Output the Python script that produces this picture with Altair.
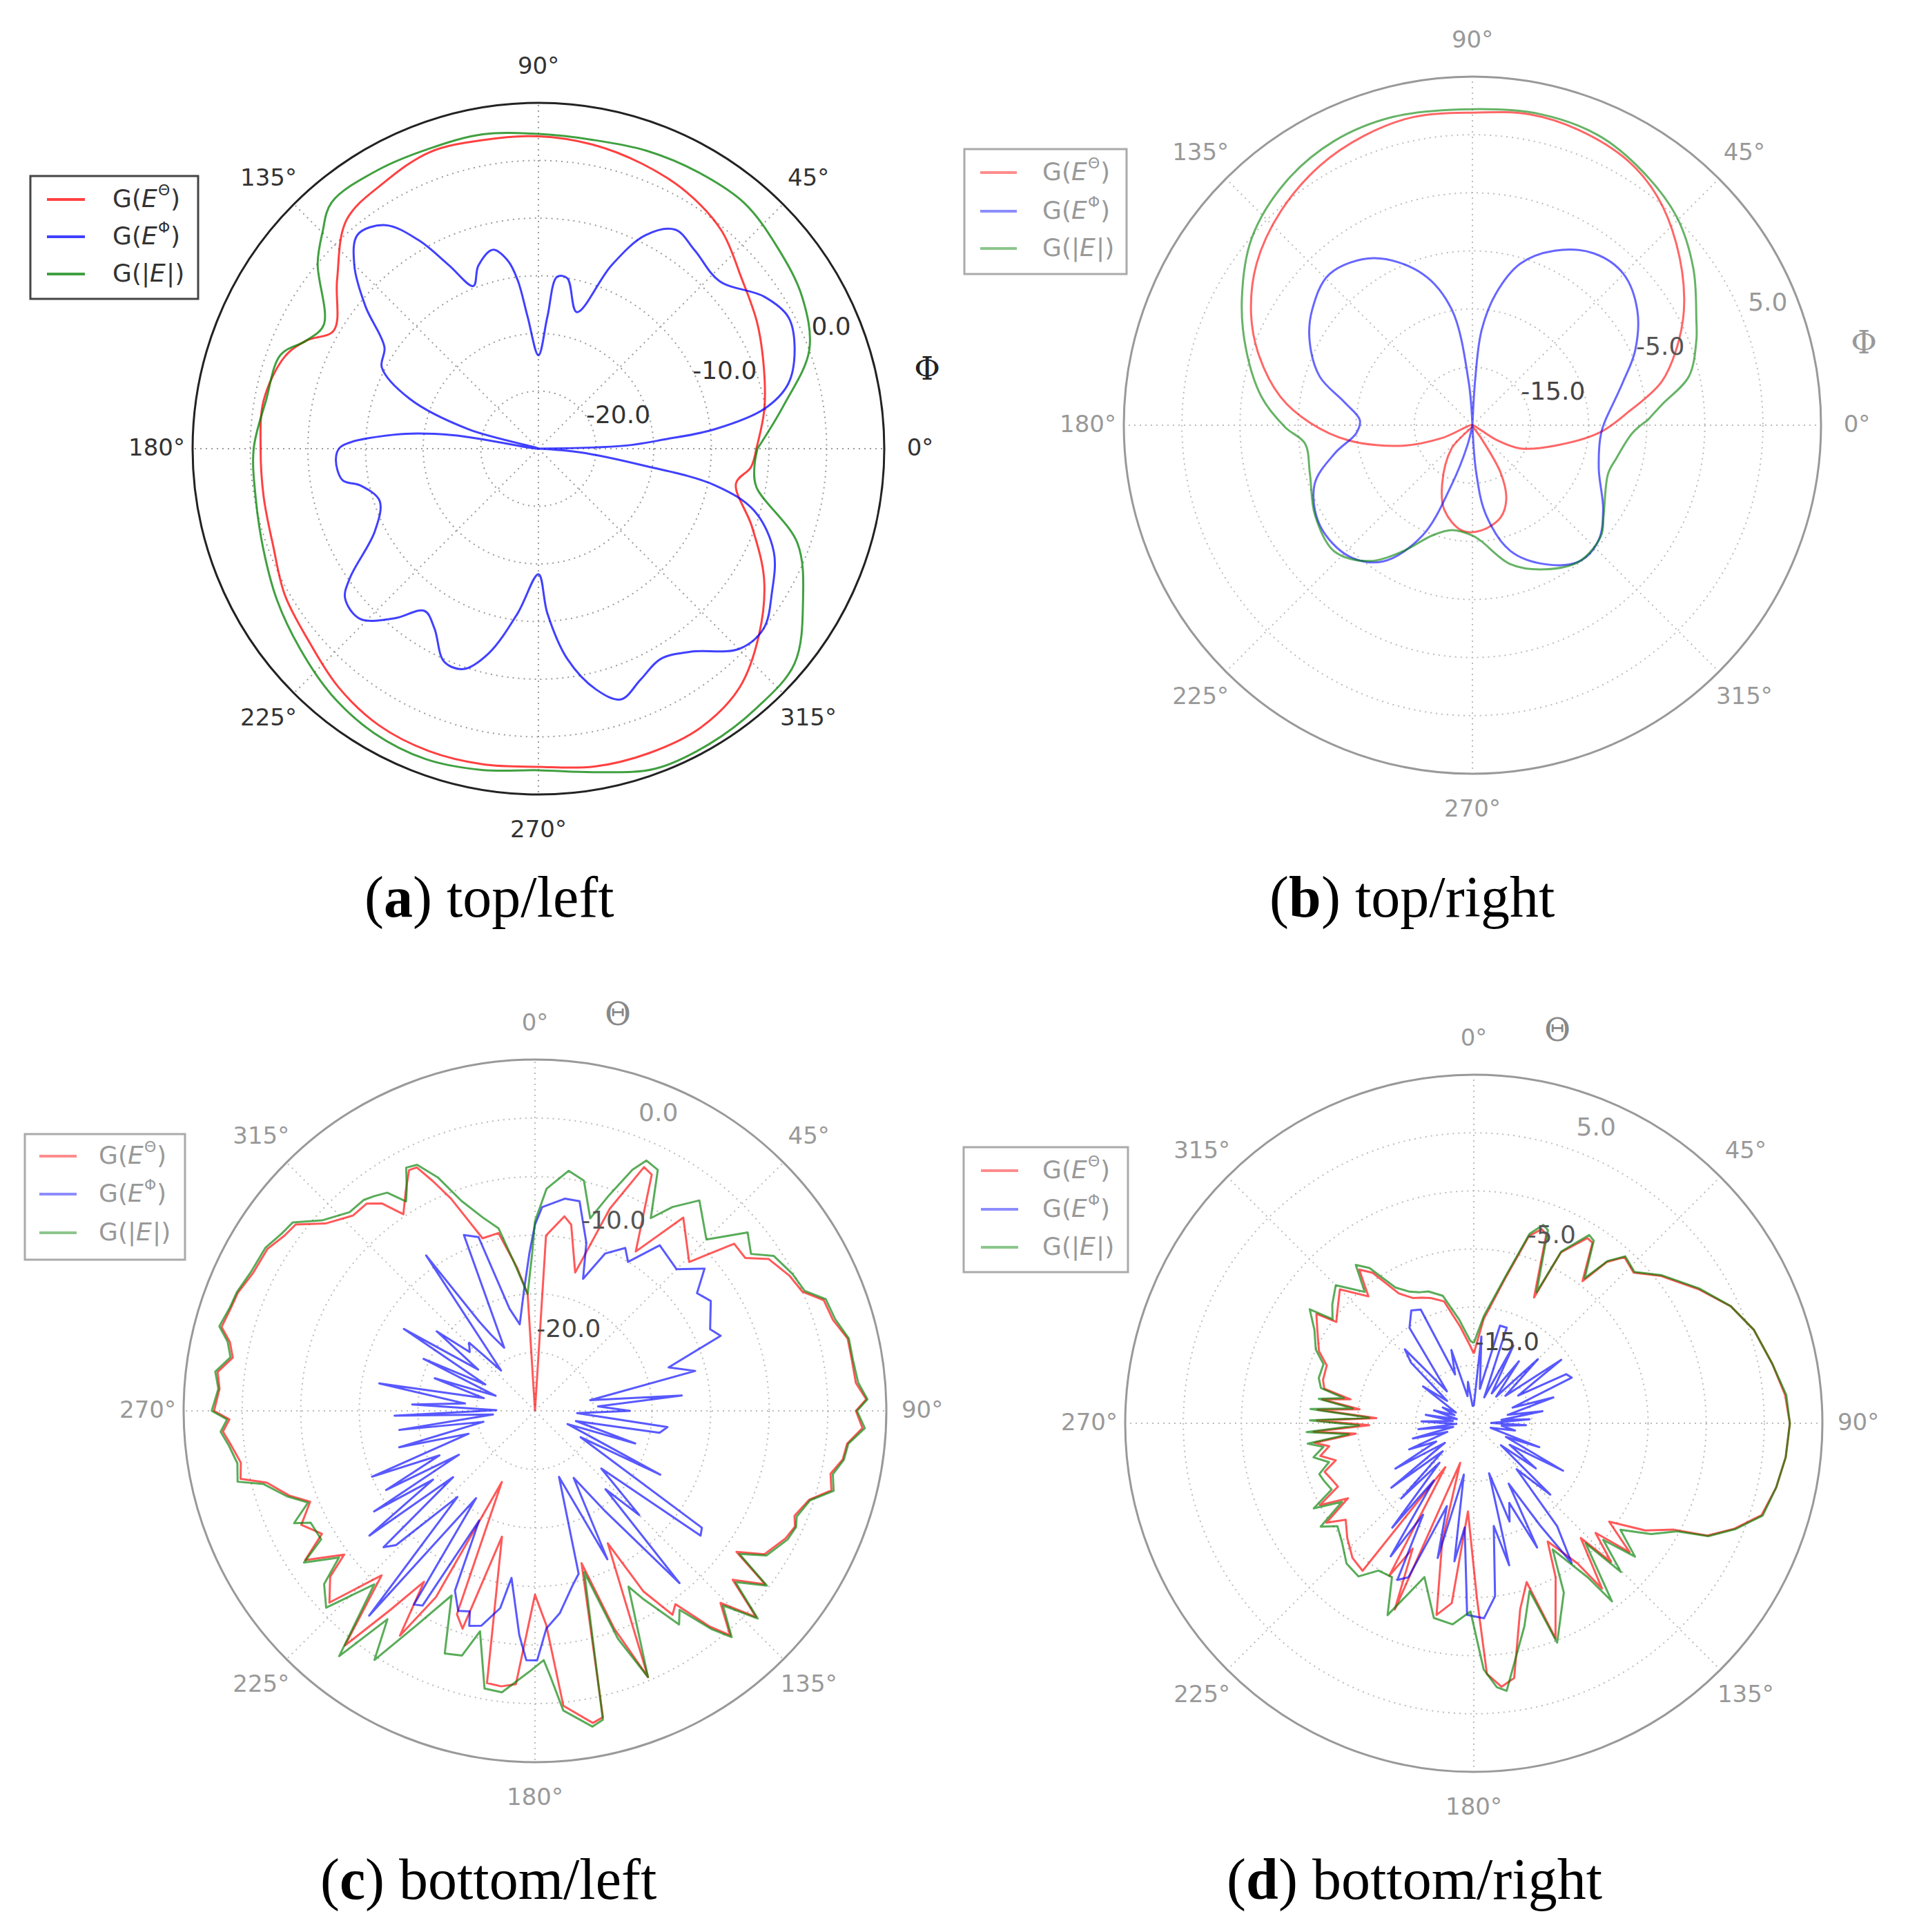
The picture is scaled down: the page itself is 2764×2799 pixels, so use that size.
import altair as alt
import pandas as pd

alt.data_transformers.disable_max_rows()

# ================= DATA: (angle in degrees, gain in dB) =================
# (a) top/left  -- angle counter-clockwise from east
A_THETA = [(0,-11.1),(10,-10.1),(20,-9.2),(30,-8.1),(40,-7.0),(50,-5.3),(60,-4.3),(70,-3.7),(80,-3.2),
           (90,-2.9),(100,-2.8),(110,-2.6),(120,-3.3),(130,-4.1),(140,-7.2),(150,-9.5),(155,-7.8),(160,-6.6),
           (170,-5.8),(180,-5.9),(190,-5.8),(200,-5.5),(210,-4.6),(220,-4.0),(230,-3.0),(240,-2.3),(250,-2.1),
           (260,-2.2),(270,-2.4),(280,-2.0),(290,-1.9),(300,-2.0),(310,-2.9),(320,-5.0),(330,-7.4),(340,-10.3),
           (350,-12.6),(355,-11.5)]
A_PHI = [(0,-30),(2,-22.5),(4.2,-19.0),(6.3,-14.6),(10,-10.1),(14.6,-7.6),(21.6,-6.1),(27.8,-5.5),(34,-6.4),
         (42.8,-8.6),(51.7,-8.1),(58,-7.6),(63.4,-9.3),(68.3,-12.9),(74.3,-17.7),(80.4,-15.0),(83.8,-15.0),
         (86.1,-18.5),(90,-21.9),(94.7,-18.5),(97,-15.3),(99.2,-13.5),(102.9,-12.3),(108.2,-13.3),(111.8,-14.8),
         (116,-12.3),(119.8,-9.2),(124.4,-6.5),(130.2,-5.7),(135.2,-7.5),(140.6,-10.6),(146.6,-14.0),
         (152.6,-14.7),(158.8,-18.0),(164.5,-23.7),(168,-30),(171,-22.5),(174.4,-17.5),(179.6,-12.8),
         (183.2,-12.4),(189.2,-12.8),(191.6,-14.2),(198.2,-15.5),(206.8,-14.1),(214.4,-10.2),(217.7,-8.8),
         (223.6,-8.6),(229.7,-10.7),(234.9,-12.8),(239.9,-12.0),(246.1,-9.8),(251.2,-9.8),(256.3,-11.7),
         (262.8,-15.6),(270,-19.1),(273.1,-15.7),(277.8,-11.6),(283.5,-8.5),(288.2,-7.1),(293.9,-8.1),
         (300.1,-8.9),(306.8,-8.0),(315.1,-5.4),(321.4,-5.0),(328.3,-6.2),(336.3,-7.7),(343.9,-10.5),
         (348.3,-14.4),(351,-21.0),(355,-26.4)]
A_ABS = [(0,-11.0),(10,-8.4),(20,-5.0),(30,-3.6),(40,-2.9),(50,-2.2),(60,-2.3),(70,-2.5),(80,-2.8),(90,-2.7),
         (100,-2.3),(110,-2.3),(120,-2.1),(130,-2.1),(135,-3.5),(140,-5.0),(150,-8.5),(155,-7.8),(160,-6.2),
         (170,-6.0),(180,-5.3),(190,-5.1),(200,-4.6),(210,-3.8),(220,-3.0),(230,-2.1),(240,-1.5),(250,-1.35),
         (260,-1.7),(270,-2.1),(280,-1.5),(290,-0.45),(300,-0.4),(310,-0.6),(320,-1.0),(330,-3.5),(340,-6.1),
         (350,-10.8),(355,-11.2)]

# (b) top/right -- angle counter-clockwise from east
B_THETA = [(4.7,-11.6),(12.9,-8.3),(22.3,-5.8),(30.7,-3.8),(41.7,-1.5),(51,0.3),(59.5,1.4),(70.1,2.0),
           (79.5,2.2),(90,1.9),(101,2.0),(110.5,1.6),(120.5,0.9),(132,-0.3),(143.2,-1.8),(153.4,-3.7),
           (162,-5.7),(171.6,-8.3),(179.1,-11.0),(187.1,-14.3),(196.5,-18.8),(203,-22.2),(212,-25),
           (228.2,-22.3),(242.8,-19.3),(251.8,-17.3),(264.1,-15.9),(274.7,-15.9),(287,-16.7),(294.6,-18.0),
           (300.6,-20.2),(304,-23.7),(314,-25),(328.5,-22.6),(334.2,-20.4),(346,-17.7),(356.5,-14.1)]
B_PHI = [(5.4,-13.2),(16.1,-11.5),(24.6,-9.6),(34.9,-7.7),(45.1,-6.6),(54.8,-6.9),(64.8,-8.4),(73.5,-10.5),
         (79.9,-13.5),(84.5,-16.8),(86.5,-21.0),(89,-25),(91,-25),(95,-21.2),(100.1,-14.9),(108.2,-11.3),
         (120.6,-8.3),(133.4,-7.1),(144.2,-8.0),(152.5,-9.2),(162.3,-11.2),(169.8,-13.8),(177.4,-15.3),
         (183.8,-15.0),(191.6,-12.9),(200.5,-10.5),(213.2,-9.3),(226.8,-9.5),(236.8,-11.0),(245.7,-14.6),
         (250.8,-19.6),(256,-23.2),(262,-25),(272,-25),(274.6,-20.9),(278.6,-17.2),(286.8,-13.7),
         (297.6,-11.5),(308.1,-10.1),(317.6,-10.3),(327.1,-11.6),(341,-13.5),(356.6,-13.9)]
B_ABS = [(1.7,-9.9),(6.2,-8.6),(12.7,-5.9),(20.7,-4.4),(25.2,-3.7),(35.3,-1.7),(45.5,0.1),(56.2,1.3),
         (66.5,2.2),(77.7,2.4),(90,2.2),(104.4,2.4),(115.9,2.2),(127.4,1.4),(139.7,-0.1),(151.4,-2.4),
         (161.7,-4.5),(172.4,-6.7),(180.7,-8.9),(186.2,-10.5),(196.7,-10.4),(209.7,-9.4),(222.4,-8.9),
         (232.7,-10.3),(241.1,-12.6),(250,-14.9),(259,-15.8),(270,-15.5),(274.3,-15.0),(285.3,-12.6),
         (296.8,-11.1),(308.1,-10.1),(319.3,-10.4),(325.5,-11.3),(340.3,-12.6),(346.9,-12.3),(357.3,-11.2)]

# (c) bottom/left -- angle clockwise from north
C_THETA = [(0.8,-30),(3.6,-15.0),(8.6,-13.2),(11,-13.8),(16.2,-17.7),(20.3,-11.6),(24.1,-7.2),(26.3,-7.5),
           (32.3,-13.9),(37.5,-9.2),(46,-11.7),(50,-7.8),(54,-7.8),(57,-6.2),(62,-5.4),(66,-5.0),(69,-3.6),
           (73,-3.4),(77,-2.6),(81,-2.6),(85,-2.5),(88,-1.7),(90,-2.6),(93,-2.0),(96,-3.2),(99,-3.4),
           (102,-4.2),(105,-3.8),(108,-5.4),(112,-6.1),(114,-5.7),(117,-6.0),(122,-6.9),(125,-9.0),(127,-5.4),
           (130.5,-7.8),(133,-4.2),(136,-7.2),(139,-4.6),(141,-6.3),(144,-9.6),(146,-9.0),(149,-12.0),
           (151.2,-17.1),(157,-5.3),(160,-10.2),(163,-16.4),(167.5,-3.2),(169.5,-2.9),(174.5,-4.7),
           (177,-11.7),(180,-14.3),(184,-6.6),(187,-6.3),(190,-6.4),(194.7,-18.9),(198.4,-10.4),(201,-11.4),
           (205,-23.3),(208,-12.0),(211,-7.6),(213,-12.6),(216,-9.0),(219,-4.2),(223,-10.8),(227,-6.0),
           (231,-7.5),(233,-9.6),(237,-6.6),(240,-9.0),(244,-7.8),(248,-9.3),(251,-7.8),(255,-6.3),(257,-4.2),
           (260,-4.5),(263.5,-3.9),(266.2,-3.3),(268.4,-3.9),(270,-2.6),(274,-3.0),(277,-2.7),(280,-3.8),
           (282.7,-3.3),(285,-2.3),(288.8,-2.6),(291.7,-2.7),(296,-3.2),(301.2,-3.3),(305,-3.9),(307.9,-4.1),
           (311.8,-6.0),(317,-7.2),(320.9,-7.2),(323.6,-8.0),(326.2,-9.8),(329.6,-8.2),(332.4,-6.8),
           (334.1,-6.9),(336,-8.5),(338.4,-10.5),(343.1,-14.6),(348.4,-14.5),(352.9,-17.7),(356.4,-20.0),
           (359.3,-30)]
C_PHI = [(0,-14.1),(2,-12.6),(8,-11.7),(12,-11.7),(17,-15.0),(20,-18.0),(24,-15.3),(29,-14.1),(32,-15.0),
         (37,-12.3),(45,-12.9),(50,-11.1),(54,-12.9),(58,-12.3),(65,-13.5),(68,-12.9),(72,-18.0),(76,-15.9),
         (79,-25.2),(84,-17.4),(86,-24.6),(90,-21.9),(93,-26.4),(97,-18.6),(100,-19.2),(104,-26.4),(108,-21.0),
         (112,-27.0),(117,-18.0),(120,-25.5),(125,-12.6),(127,-12.3),(131,-22.5),(135,-17.4),(138,-21.0),
         (140,-10.8),(145,-19.5),(150,-23.4),(154,-15.9),(160,-24.0),(165,-15.6),(168,-14.7),(173,-12.6),
         (177,-11.4),(179.5,-8.7),(182,-8.7),(184,-10.8),(188,-15.6),(190,-12.9),(194,-11.1),(197,-10.8),
         (198,-12.0),(201,-11.7),(204,-13.2),(207,-19.5),(210,-10.8),(212,-10.5),(214,-21.0),(219,-7.5),
         (222,-20.1),(226,-13.5),(228,-12.6),(231,-21.0),(233,-12.3),(236,-19.5),(238,-13.8),(240,-22.5),
         (242,-15.6),(245,-21.0),(248,-15.0),(251,-24.0),(255,-18.0),(258,-25.5),(262,-18.3),(265,-26.4),
         (268,-18.0),(271,-26.7),(273,-19.5),(276,-24.0),(280,-16.5),(284,-25.5),(288,-21.0),(291,-26.4),
         (295,-19.5),(298,-25.2),(302,-16.8),(306,-24.0),(309,-19.2),(312,-22.5),(316,-21.9),(320,-25.5),
         (325,-13.8),(328,-21.0),(330,-22.5),(334,-24.0),(338,-13.8),(342,-14.4),(346,-21.0),(350,-22.5),
         (355,-19.5),(358,-16.5)]
C_ABS = [(0,-13.8),(3,-11.0),(8,-9.3),(12,-9.9),(16,-12.9),(19,-10.5),(22,-7.8),(24,-6.6),(27,-6.9),
         (31,-10.8),(34,-9.0),(38,-7.2),(45,-9.3),(50,-6.3),(54,-7.2),(57,-5.7),(62,-5.1),(66,-4.8),(69,-3.4),
         (73,-3.2),(77,-2.5),(81,-2.5),(85,-2.3),(88,-1.6),(90,-2.5),(93,-1.8),(96,-3.1),(99,-3.3),(102,-4.0),
         (105,-3.6),(108,-5.3),(112,-5.9),(114,-5.6),(117,-5.8),(122,-6.7),(125,-8.7),(127,-5.2),(130.5,-7.5),
         (133,-4.0),(136,-6.9),(139,-4.4),(141,-6.0),(144,-9.0),(146,-8.0),(150,-11.4),(152,-13.0),(157,-5.3),
         (160,-9.3),(163,-15.6),(167.6,-3.0),(169.7,-2.6),(174.6,-4.3),(176.7,-7.3),(178,-8.7),(181,-7.8),
         (186.7,-5.8),(190.3,-5.9),(194,-10.6),(196.6,-8.2),(200.4,-7.9),(204.3,-12.7),(209,-9.0),
         (212.8,-4.7),(215.3,-8.2),(218.6,-3.2),(222.8,-9.8),(226.7,-5.5),(230.6,-6.7),(233.2,-9.1),
         (236.7,-6.4),(239,-8.7),(243.5,-8.6),(245,-7.3),(248,-9.1),(251,-7.6),(254.9,-6.0),(256.6,-3.9),
         (260,-4.2),(263.5,-3.7),(266.2,-3.1),(268.4,-3.7),(270,-2.4),(274,-2.9),(277,-2.5),(280,-3.6),
         (282.7,-3.1),(285,-2.1),(288.8,-2.5),(291.7,-2.6),(296,-3.0),(301.2,-3.1),(305,-3.6),(307.9,-3.8),
         (311.8,-5.6),(317,-6.8),(320.9,-6.8),(323.2,-7.1),(325.9,-7.5),(328.4,-9.0),(330,-8.1),(332.1,-6.5),
         (334.4,-6.7),(337.4,-8.4),(340.7,-11.0),(344.9,-12.9),(348.7,-14.1),(352,-17.2),(356.4,-20.0),
         (359,-16.5)]

# (d) bottom/right -- angle clockwise from north
D_THETA = [(0,-19.0),(5.4,-16.0),(12.4,-12.1),(16.4,-8.2),(19.3,-7.3),(21,-7.6),(25.6,-13.0),(27,-8.5),
           (31.5,-6.3),(33.3,-6.4),(37.4,-9.6),(39.5,-7.0),(42.2,-5.7),(46.7,-6.1),(51.8,-4.5),(59.1,-2.5),
           (65.5,-0.7),(71.5,0.4),(78.8,1.2),(84.8,1.9),(90,2.2),(96.2,2.0),(102,1.6),(107.7,1.0),(112,-0.8),
           (115.7,-2.7),(118,-5.5),(122,-7.6),(126,-10.6),(129.6,-7.6),(132,-10.9),(135.3,-8.2),(137,-11.5),
           (142.2,-7.0),(143.5,-10.0),(148,-13.0),(152,-10.0),(159.2,-5.2),(161.6,-10.6),(166,-8.5),
           (171,-2.8),(174,-2.2),(177,-3.4),(179,-10.0),(183.8,-17.4),(187,-9.4),(191,-8.2),(195,-14.5),
           (199,-21.4),(203,-7.6),(206,-13.0),(209,-10.0),(213,-20.5),(217,-9.1),(222,-9.4),(227.8,-10.3),
           (233,-11.2),(236,-9.7),(239.2,-12.4),(242,-10.0),(245,-12.1),(249,-11.8),(252,-11.5),(255,-12.7),
           (258,-11.5),(261,-12.4),(263,-11.2),(265,-14.8),(267,-11.2),(269,-16.0),(271,-11.5),(273,-16.6),
           (275,-11.5),(277,-15.1),(279,-11.8),(281,-14.2),(283,-11.8),(286,-11.5),(291.5,-11.4),(295,-10.3),
           (300.4,-9.4),(304.8,-8.5),(306.4,-10.3),(310,-9.7),(315,-8.7),(320.3,-10.8),(323.3,-8.5),
           (326.1,-9.4),(330,-12.1),(334,-13.0),(337.6,-13.3),(341,-13.6),(346.3,-14.2),(352,-16.6),
           (357.6,-18.4)]
D_PHI = [(0,-23.5),(5,-17.5),(10,-22.0),(15,-16.3),(19,-16.3),(22,-22.6),(27,-17.5),(31,-22.0),(36,-18.4),
         (40,-22.0),(45,-17.2),(49,-21.4),(54,-15.7),(58,-20.5),(62,-16.0),(65,-15.7),(68,-21.4),(72,-17.8),
         (76,-22.0),(80,-19.0),(83,-22.6),(86,-20.2),(89,-23.5),(92,-20.5),(95,-22.6),(100,-21.4),(105,-23.5),
         (110,-19.0),(113,-22.0),(118,-16.3),(121,-21.4),(126,-18.4),(129,-22.0),(133,-16.0),(137,-19.6),
         (141,-13.6),(145,-10.3),(147,-14.5),(150,-19.0),(153,-13.0),(156,-17.5),(160,-16.0),(163,-20.5),
         (166,-12.4),(169,-16.0),(173,-10.0),(177,-8.2),(182,-8.5),(185,-16.0),(188,-13.0),(191,-20.5),
         (195,-13.0),(198,-17.5),(203,-10.6),(206,-10.0),(209,-16.0),(212,-11.5),(215,-19.0),(218,-13.6),
         (221,-20.5),(224,-16.0),(228,-21.4),(232,-16.0),(236,-22.0),(240,-17.2),(244,-21.4),(248,-19.0),
         (252,-22.6),(256,-19.6),(260,-23.2),(264,-20.2),(268,-23.5),(272,-20.5),(276,-23.2),(280,-20.8),
         (284,-23.5),(288,-21.4),(293,-23.2),(297,-22.0),(301,-23.2),(306,-19.6),(310,-22.0),(314,-17.5),
         (317,-16.3),(320,-21.4),(326,-15.1),(331,-13.9),(335,-14.2),(339,-20.5),(343,-18.4),(347,-22.6),
         (352,-21.4),(356,-23.5)]
D_ABS = [(0,-18.1),(5.4,-15.7),(12.4,-11.9),(16.4,-8.0),(19.3,-6.9),(21,-7.2),(25.6,-12.5),(27,-8.4),
         (31.5,-6.0),(33.3,-6.2),(37.4,-9.3),(39.5,-6.9),(42.2,-5.6),(46.7,-6.0),(51.8,-4.4),(59.1,-2.4),
         (65.5,-0.7),(71.5,0.4),(78.8,1.2),(84.8,2.0),(90,2.2),(96.2,2.0),(102,1.6),(107.7,1.1),(112,-0.7),
         (115.7,-2.6),(118,-5.2),(122,-7.0),(126,-9.4),(129.6,-7.0),(132,-10.0),(135.3,-7.0),(137,-10.9),
         (142.2,-5.6),(143.5,-8.5),(148,-12.2),(152,-8.5),(159.2,-4.8),(161.6,-9.8),(166,-7.0),(173,-1.8),
         (175,-2.2),(177.7,-3.8),(181,-8.8),(186,-7.6),(191.6,-7.9),(197.8,-11.1),(204.2,-6.9),(208,-10.0),
         (212.9,-9.9),(217,-8.5),(222.2,-8.7),(227.8,-9.7),(233,-10.3),(236,-9.1),(239.2,-11.8),(242,-9.4),
         (245,-11.5),(248.9,-11.2),(251.8,-11.0),(255,-12.1),(258,-10.9),(261.1,-11.9),(263,-10.6),
         (265,-14.2),(267,-10.6),(269,-15.1),(271,-10.9),(273,-16.0),(275,-10.9),(277,-14.5),(279,-11.5),
         (281,-13.6),(283,-11.5),(286.3,-11.1),(291.5,-11.1),(295,-10.0),(300.4,-9.1),(304.8,-7.8),
         (306.4,-9.9),(310,-9.1),(315,-8.2),(320.3,-10.3),(323.3,-8.0),(326.1,-8.9),(330,-11.5),(334,-12.4),
         (337.6,-12.8),(341,-13.0),(346.3,-13.7),(352,-16.0),(357.6,-17.9)]

SERIES_NAMES = ["theta", "phi", "abs"]
ANGLE_TICKS = [0, 45, 90, 135, 180, 225, 270, 315]

# ================= LAYOUT (page pixels) =================
M = 8
PAGE_W, PAGE_H = 2764, 2799
W, H = PAGE_W - 2 * M, PAGE_H - 2 * M
XS = alt.Scale(domain=[M, M + W], nice=False, zero=False)
YS = alt.Scale(domain=[M, M + H], nice=False, zero=False, reverse=True)

PANELS = {
    "a": dict(cx=780, cy=650, R=501, vmin=-30, vmax=0, compass=False, rings=[-25, -20, -15, -10, -5],
              rlab=[(-20, "-20.0", "#333"), (-10, "-10.0", "#333"), (0, "0.0", "#333")],
              frame="#222", grid="#9a9a9a", tick="#333", alpha=0.75, smooth=True,
              data={"theta": A_THETA, "phi": A_PHI, "abs": A_ABS}),
    "b": dict(cx=2133, cy=616, R=505, vmin=-25, vmax=5, compass=False, rings=[-20, -15, -10, -5, 0],
              rlab=[(-15, "-15.0", "#444"), (-5, "-5.0", "#555"), (5, "5.0", "#999")],
              frame="#999", grid="#bbbbbb", tick="#999", alpha=0.6, smooth=True,
              data={"theta": B_THETA, "phi": B_PHI, "abs": B_ABS}),
    "c": dict(cx=775, cy=2044, R=509, vmin=-30, vmax=0, compass=True, rings=[-25, -20, -15, -10, -5],
              rlab=[(-20, "-20.0", "#444"), (-10, "-10.0", "#555"), (0, "0.0", "#999")],
              frame="#999", grid="#bbbbbb", tick="#999", alpha=0.65, smooth=False,
              data={"theta": C_THETA, "phi": C_PHI, "abs": C_ABS}),
    "d": dict(cx=2135, cy=2062, R=505, vmin=-25, vmax=5, compass=True, rings=[-20, -15, -10, -5, 0],
              rlab=[(-15, "-15.0", "#444"), (-5, "-5.0", "#555"), (5, "5.0", "#999")],
              frame="#999", grid="#bbbbbb", tick="#999", alpha=0.65, smooth=False,
              data={"theta": D_THETA, "phi": D_PHI, "abs": D_ABS}),
}
COLORS = {"theta": "#ff0000", "phi": "#0000ff", "abs": "#008000"}


def xy(p, rr="datum.rr"):
    t = "datum.ang*PI/180"
    if p["compass"]:
        return f"{p['cx']} + {rr}*sin({t})", f"{p['cy']} - {rr}*cos({t})"
    return f"{p['cx']} + {rr}*cos({t})", f"{p['cy']} - {rr}*sin({t})"


def rr_of(p, shift=0):
    span = p["vmax"] - p["vmin"]
    return f"max(0, {p['R']}*(datum.val - ({p['vmin']}))/{span} + ({shift}))"


# curve table
rows = []
for key, p in PANELS.items():
    for s in SERIES_NAMES:
        pts = p["data"][s]
        seq = list(pts) + [pts[0]]
        for i, (ang, val) in enumerate(seq):
            rows.append(dict(panel=key, series=s, idx=i, ang=ang, val=val))
CURVES = pd.DataFrame(rows)

layers = []
for key, p in PANELS.items():
    px, py = xy(p)
    # dotted rings
    ring_df = pd.DataFrame({"val": p["rings"]})
    layers.append(
        alt.Chart(ring_df).transform_calculate(rr=rr_of(p)).transform_calculate(
            sz="4*datum.rr*datum.rr", px=str(p["cx"]), py=str(p["cy"]))
        .mark_point(shape="circle", filled=False, stroke=p["grid"], strokeWidth=2,
                    strokeDash=[2, 6], opacity=1)
        .encode(x=alt.X("px:Q", scale=XS, axis=None), y=alt.Y("py:Q", scale=YS, axis=None),
                size=alt.Size("sz:Q", scale=None))
    )
    # spokes
    sp_df = pd.DataFrame({"ang": ANGLE_TICKS})
    qx, qy = xy(p, str(p["R"]))
    layers.append(
        alt.Chart(sp_df).transform_calculate(px0=str(p["cx"]), py0=str(p["cy"]), qx=qx, qy=qy)
        .mark_rule(stroke=p["grid"], strokeWidth=2, strokeDash=[2, 6])
        .encode(x=alt.X("px0:Q", scale=XS, axis=None), y=alt.Y("py0:Q", scale=YS, axis=None),
                x2="qx:Q", y2="qy:Q")
    )
    # outer frame
    fr_df = pd.DataFrame({"val": [p["vmax"]]})
    layers.append(
        alt.Chart(fr_df).transform_calculate(rr=rr_of(p)).transform_calculate(
            sz="4*datum.rr*datum.rr", px=str(p["cx"]), py=str(p["cy"]))
        .mark_point(shape="circle", filled=False, stroke=p["frame"], strokeWidth=3, opacity=1)
        .encode(x=alt.X("px:Q", scale=XS, axis=None), y=alt.Y("py:Q", scale=YS, axis=None),
                size=alt.Size("sz:Q", scale=None))
    )
    # curves
    for s in SERIES_NAMES:
        mk = dict(color=COLORS[s], strokeWidth=3, opacity=p["alpha"], strokeJoin="round")
        if p["smooth"]:
            mk["interpolate"] = "catmull-rom"
        layers.append(
            alt.Chart(CURVES)
            .transform_filter((alt.datum.panel == key) & (alt.datum.series == s))
            .transform_calculate(rr=rr_of(p))
            .transform_calculate(px=px, py=py)
            .mark_line(**mk)
            .encode(x=alt.X("px:Q", scale=XS, axis=None), y=alt.Y("py:Q", scale=YS, axis=None),
                    order=alt.Order("idx:Q"))
        )
    # angle tick labels
    al_df = pd.DataFrame({"ang": ANGLE_TICKS, "text": [f"{a}\u00b0" for a in ANGLE_TICKS]})
    lx, ly = xy(p, str(p["R"] + 52))
    layers.append(
        alt.Chart(al_df).transform_calculate(px=lx, py=ly)
        .mark_text(font="DejaVu Sans", fontSize=34, color=p["tick"], align="center", baseline="middle")
        .encode(x=alt.X("px:Q", scale=XS, axis=None), y=alt.Y("py:Q", scale=YS, axis=None), text="text:N")
    )
    # radial labels
    rl_df = pd.DataFrame({"val": [v for v, _, _ in p["rlab"]], "text": [t for _, t, _ in p["rlab"]],
                          "color": [c for _, _, c in p["rlab"]], "ang": [22.5] * 3})
    layers.append(
        alt.Chart(rl_df).transform_calculate(rr=rr_of(p, -42)).transform_calculate(px=px, py=py)
        .mark_text(font="DejaVu Sans", fontSize=36, align="center", baseline="middle")
        .encode(x=alt.X("px:Q", scale=XS, axis=None), y=alt.Y("py:Q", scale=YS, axis=None),
                text="text:N", color=alt.Color("color:N", scale=None))
    )

# ================= LEGENDS =================
LEGENDS = {
    "a": dict(box=(44, 255, 287, 433), lx=(68, 123), tx=163, rows=(289, 343, 397), tc="#333", bc="#444", al=0.75),
    "b": dict(box=(1397, 216, 1632, 397), lx=(1420, 1473), tx=1510, rows=(250, 306, 360), tc="#999", bc="#aaa", al=0.45),
    "c": dict(box=(36, 1643, 268, 1825), lx=(57, 111), tx=143, rows=(1675, 1730, 1786), tc="#999", bc="#aaa", al=0.45),
    "d": dict(box=(1396, 1662, 1634, 1843), lx=(1421, 1475), tx=1510, rows=(1696, 1752, 1807), tc="#999", bc="#aaa", al=0.45),
}
box_rows, line_rows, t_norm, t_ital, t_sup = [], [], [], [], []
for key, L in LEGENDS.items():
    x1, y1, x2, y2 = L["box"]
    box_rows.append(dict(x1=x1, y1=y1, x2=x2, y2=y2, c=L["bc"]))
    for s, y in zip(SERIES_NAMES, L["rows"]):
        line_rows.append(dict(x1=L["lx"][0], x2=L["lx"][1], y=y, c=COLORS[s], o=L["al"]))
    tx = L["tx"]
    for sup, y in zip(["\u0398", "\u03a6"], L["rows"][:2]):
        t_norm.append(dict(x=tx, y=y, text="G(", color=L["tc"]))
        t_ital.append(dict(x=tx + 42, y=y, text="E", color=L["tc"]))
        t_sup.append(dict(x=tx + 66, y=y - 13, text=sup, color=L["tc"]))
        t_norm.append(dict(x=tx + 84, y=y, text=")", color=L["tc"]))
    y = L["rows"][2]
    t_norm.append(dict(x=tx, y=y, text="G(|", color=L["tc"]))
    t_ital.append(dict(x=tx + 54, y=y, text="E", color=L["tc"]))
    t_norm.append(dict(x=tx + 78, y=y, text="|)", color=L["tc"]))

layers.append(
    alt.Chart(pd.DataFrame(box_rows)).mark_rect(fill="white", strokeWidth=3)
    .encode(x=alt.X("x1:Q", scale=XS, axis=None), x2="x2:Q",
            y=alt.Y("y1:Q", scale=YS, axis=None), y2="y2:Q", stroke=alt.Stroke("c:N", scale=None))
)
layers.append(
    alt.Chart(pd.DataFrame(line_rows)).mark_rule(strokeWidth=4)
    .encode(x=alt.X("x1:Q", scale=XS, axis=None), x2="x2:Q",
            y=alt.Y("y:Q", scale=YS, axis=None), color=alt.Color("c:N", scale=None),
            opacity=alt.Opacity("o:Q", scale=None))
)


def text_layer(records, **mk):
    return alt.Chart(pd.DataFrame(records)).mark_text(**mk).encode(
        x=alt.X("x:Q", scale=XS, axis=None), y=alt.Y("y:Q", scale=YS, axis=None),
        text="text:N", color=alt.Color("color:N", scale=None))


layers.append(text_layer(t_norm, font="DejaVu Sans", fontSize=36, align="left", baseline="middle"))
layers.append(text_layer(t_ital, font="DejaVu Sans", fontSize=36, fontStyle="italic", align="left", baseline="middle"))
layers.append(text_layer(t_sup, font="DejaVu Sans", fontSize=22, align="left", baseline="middle"))

# axis symbols (Phi / Theta)
SYMBOLS = [dict(x=1343, y=536, text="\u03a6", color="#222"), dict(x=2700, y=498, text="\u03a6", color="#999"),
           dict(x=895, y=1471, text="\u0398", color="#888"), dict(x=2256, y=1494, text="\u0398", color="#888")]
layers.append(text_layer(SYMBOLS, font="DejaVu Serif", fontSize=46, align="center", baseline="middle"))

# captions
CAP = [("a", ") top/left", 528, 1328, 42), ("b", ") top/right", 1839, 1328, 47),
       ("c", ") bottom/left", 464, 2751, 37), ("d", ") bottom/right", 1777, 2751, 47)]
cap_norm, cap_bold = [], []
for letter, rest, x0, yb, wl in CAP:
    cap_norm.append(dict(x=x0, y=yb, text="(", color="#000"))
    cap_bold.append(dict(x=x0 + 28, y=yb, text=letter, color="#000"))
    cap_norm.append(dict(x=x0 + 28 + wl, y=yb, text=rest, color="#000"))
layers.append(text_layer(cap_norm, font="Liberation Serif", fontSize=84, align="left", baseline="alphabetic"))
layers.append(text_layer(cap_bold, font="Liberation Serif", fontSize=84, fontWeight="bold", align="left", baseline="alphabetic"))

chart = alt.layer(*layers).properties(
    width=W, height=H, padding=0, autosize=alt.AutoSizeParams(type="none"), background="white"
).configure_view(stroke=None)

chart.save("out.html", embed_options={"renderer": "svg", "actions": False})
